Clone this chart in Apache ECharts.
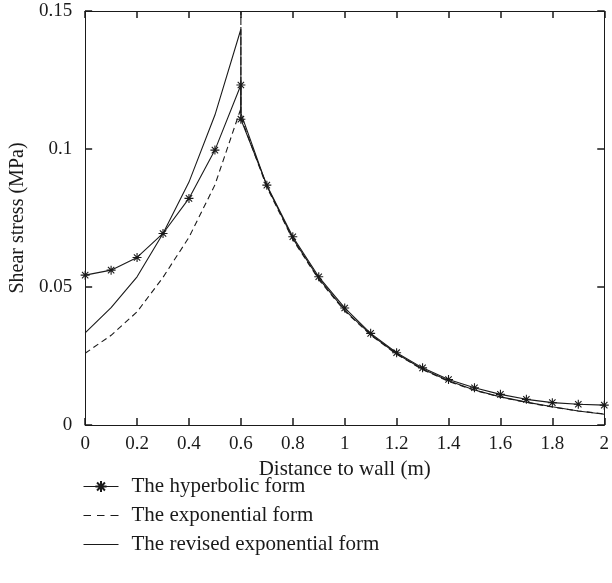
<!DOCTYPE html>
<html>
<head>
<meta charset="utf-8">
<script src="https://cdn.jsdelivr.net/npm/echarts@6/dist/echarts.min.js"></script>
<style>html,body{margin:0;padding:0;background:#fff}#c{width:612px;height:583px}</style>
</head>
<body>
<div id="c"></div>
<script>
const xTicks = [0,0.2,0.4,0.6,0.8,1,1.2,1.4,1.6,1.8,2];
const yTicks = [0,0.05,0.1,0.15];

const hypX = [0,0.1,0.2,0.3,0.4,0.5,0.6,0.6,0.7,0.8,0.9,1.0,1.1,1.2,1.3,1.4,1.5,1.6,1.7,1.8,1.9,2.0];
const hypY = [0.0543,0.0561,0.0607,0.0694,0.0821,0.0996,0.1232,0.1108,0.0869,0.0682,0.0537,0.0424,0.0332,0.0262,0.0207,0.0165,0.0135,0.0111,0.0093,0.0081,0.0075,0.0072];

const expX = [0,0.1,0.2,0.3,0.4,0.5,0.6,0.6,0.6,0.7,0.8,0.9,1.0,1.1,1.2,1.3,1.4,1.5,1.6,1.7,1.8,1.9,2.0];
const expY = [0.0260,0.0325,0.0410,0.0535,0.0680,0.0870,0.1147,0.1500,0.1115,0.0862,0.0672,0.0527,0.0413,0.0326,0.0256,0.0201,0.0158,0.0126,0.0101,0.0082,0.0065,0.0051,0.0040];

const revX = [0,0.1,0.2,0.3,0.4,0.5,0.6,0.6,0.7,0.8,0.9,1.0,1.1,1.2,1.3,1.4,1.5,1.6,1.7,1.8,1.9,2.0];
const revY = [0.0334,0.0425,0.0537,0.0694,0.0880,0.1123,0.1434,0.1130,0.0866,0.0676,0.0531,0.0416,0.0328,0.0258,0.0203,0.0160,0.0127,0.0102,0.0083,0.0066,0.0051,0.0039];

const names = ['The hyperbolic form','The exponential form','The revised exponential form'];

const pairs = (xs, ys) => xs.map((x, i) => [x, ys[i]]);
const ink = '#1a1a1a';
const font = 'Liberation Serif';
const asterisk = 'path://M0,-10L0,10M-10,0L10,0M-7.07,-7.07L7.07,7.07M-7.07,7.07L7.07,-7.07';
const bbox = ' M0,0h0.01v0.01h-0.01z M0,13.99h0.01v0.01h-0.01z';
const dashIcon = 'path://M0,6.4h7.5v1.2h-7.5z M13.5,6.4h7.5v1.2h-7.5z M27,6.4h8v1.2h-8z' + bbox;
const solidIcon = 'path://M0,6.4h35v1.2h-35z' + bbox;

function axisStyle() {
  return {
    axisLine: {show: true, onZero: false, lineStyle: {color: ink, width: 1}},
    axisTick: {show: true, inside: true, length: 7, lineStyle: {color: ink, width: 1.5}},
    splitLine: {show: false}
  };
}

const chart = echarts.init(document.getElementById('c'), null, {renderer: 'canvas'});
chart.setOption({
  animation: false,
  backgroundColor: '#fff',
  grid: {left: 84, right: 3, top: 11, bottom: 158},
  xAxis: [
    Object.assign(axisStyle(), {
      type: 'value', min: 0, max: 2, interval: 0.2, position: 'bottom',
      name: 'Distance to wall (m)', nameLocation: 'middle', nameGap: 32,
      nameTextStyle: {fontFamily: font, fontSize: 21, color: ink},
      axisLabel: {show: true, fontFamily: font, fontSize: 19, color: ink, margin: 10,
        formatter: v => String(+v.toFixed(1))}
    }),
    Object.assign(axisStyle(), {
      type: 'value', min: 0, max: 2, interval: 0.2, position: 'top',
      axisLabel: {show: false}
    })
  ],
  yAxis: [
    Object.assign(axisStyle(), {
      type: 'value', min: 0, max: 0.15, interval: 0.05, position: 'left',
      name: 'Shear stress (MPa)', nameLocation: 'middle', nameGap: 57,
      nameTextStyle: {fontFamily: font, fontSize: 20, color: ink},
      axisLabel: {show: true, fontFamily: font, fontSize: 19, color: ink, margin: 13,
        formatter: v => String(+v.toFixed(2))}
    }),
    Object.assign(axisStyle(), {
      type: 'value', min: 0, max: 0.15, interval: 0.05, position: 'right',
      axisLabel: {show: false}
    })
  ],
  legend: {
    orient: 'vertical', left: 83, top: 476, padding: 0,
    itemWidth: 35, itemHeight: 14, itemGap: 8,
    lineStyle: {width: 1},
    textStyle: {fontFamily: font, fontSize: 21, color: ink, padding: [0,0,0,8]},
    data: [
      {name: names[0]},
      {name: names[1], icon: dashIcon},
      {name: names[2], icon: solidIcon}
    ]
  },
  series: [
    {
      name: names[0], type: 'line', data: pairs(hypX, hypY),
      symbol: asterisk, symbolSize: 9, showSymbol: true,
      itemStyle: {color: 'none', borderColor: ink, borderWidth: 1.1},
      lineStyle: {color: ink, width: 1.1}, z: 3
    },
    {
      name: names[1], type: 'line', data: pairs(expX, expY),
      symbol: 'none', lineStyle: {color: ink, width: 1.1, type: [6, 4]},
      itemStyle: {color: ink}
    },
    {
      name: names[2], type: 'line', data: pairs(revX, revY),
      symbol: 'none', lineStyle: {color: ink, width: 1.1},
      itemStyle: {color: ink}
    }
  ]
});
</script>
</body>
</html>
